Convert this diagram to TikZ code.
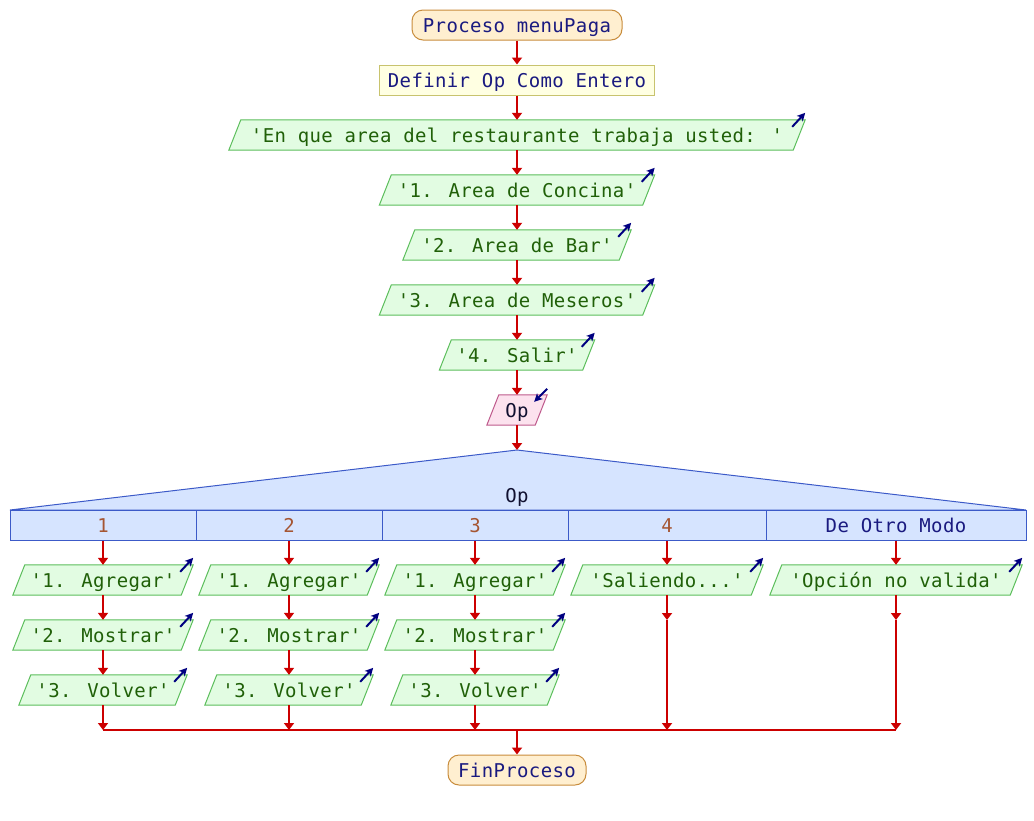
\documentclass[tikz,border=0pt]{standalone}
\usepackage{fontspec}
\usetikzlibrary{arrows.meta,backgrounds}
\newfontfamily\pf[LetterSpace=1.9]{DejaVu Sans Mono}
\definecolor{termfill}{RGB}{255,239,208}
\definecolor{termdraw}{RGB}{200,140,60}
\definecolor{deffill}{RGB}{255,255,226}
\definecolor{defdraw}{RGB}{200,195,110}
\definecolor{outfill}{RGB}{226,252,226}
\definecolor{outdraw}{RGB}{92,190,92}
\definecolor{infill}{RGB}{252,226,238}
\definecolor{indraw}{RGB}{190,90,140}
\definecolor{swfill}{RGB}{214,228,255}
\definecolor{swdraw}{RGB}{60,90,200}
\definecolor{flowred}{RGB}{204,0,0}
\definecolor{iconblue}{RGB}{0,0,128}
\definecolor{txtnavy}{RGB}{26,26,128}
\definecolor{txtgreen}{RGB}{32,96,8}
\definecolor{txtbrown}{RGB}{165,85,50}
\definecolor{txtdark}{RGB}{16,16,48}
\tikzset{
  base/.style={font=\pf\fontsize{19}{21}\selectfont, inner sep=0pt, minimum height=30pt, text height=15pt, text depth=1pt, anchor=center},
  term/.style={base, draw=termdraw, fill=termfill, rounded corners=11pt, text=txtnavy, line width=1pt},
  defbox/.style={base, draw=defdraw, fill=deffill, text=txtnavy, line width=1pt},
  io/.style={base, text=txtgreen},
  inp/.style={base, text=txtdark},
  outsh/.style={draw=outdraw, fill=outfill, line width=1pt},
  insh/.style={draw=indraw, fill=infill, line width=1pt},
  icon/.style={draw=iconblue, line width=2pt, -{Stealth[length=8pt,width=8pt,inset=2pt]}},
  cell/.style={base, draw=swdraw, fill=swfill, line width=1pt, minimum height=30pt, text=txtbrown},
  flow/.style={draw=flowred, line width=2pt, -{Triangle[length=7pt,width=10pt]}},
  fline/.style={draw=flowred, line width=2pt},
}
\newcommand\outp[5]{%
  \node[io,minimum width=#4pt] (#1) at (#2,#3) {#5};
  \begin{pgfonlayer}{background}
  \draw[outsh] ([xshift=6pt]#1.north west) -- ([xshift=6pt]#1.north east) -- ([xshift=-6pt]#1.south east) -- ([xshift=-6pt]#1.south west) -- cycle;
  \end{pgfonlayer}
  \draw[icon] ([xshift=-7pt,yshift=-7pt]#1.north east) -- ([xshift=6pt,yshift=7pt]#1.north east);
}
\begin{document}
\begin{tikzpicture}[x=1pt,y=-1pt]
\useasboundingbox (0,0) rectangle (1034,820);
% terminals and definition
\node[term, minimum width=210pt] (start) at (517,25) {Proceso menuPaga};
\node[defbox, minimum width=275pt] (def) at (517,80) {Definir Op Como Entero};
\outp{o1}{517}{135}{564}{'En que area del restaurante trabaja usted: '}
\outp{o2}{517}{190}{263}{'1. Area de Concina'}
\outp{o3}{517}{245}{216}{'2. Area de Bar'}
\outp{o4}{517}{300}{263}{'3. Area de Meseros'}
\outp{o5}{517}{355}{143}{'4. Salir'}
% input
\node[inp, minimum width=48pt] (op) at (517,410) {Op};
\begin{pgfonlayer}{background}
\draw[insh] ([xshift=6pt]op.north west) -- ([xshift=6pt]op.north east) -- ([xshift=-6pt]op.south east) -- ([xshift=-6pt]op.south west) -- cycle;
\end{pgfonlayer}
\draw[icon] ([xshift=6pt,yshift=6pt]op.north east) -- ([xshift=-7pt,yshift=-7pt]op.north east);
% switch
\coordinate (swtop) at (517,450);
\coordinate (swl) at (10,510);
\coordinate (swr) at (1026,510);
\draw[draw=swdraw, fill=swfill, line width=1pt] (swl) -- (swtop) -- (swr) -- cycle;
\node[base, text=txtdark] (swlab) at (517,495) {Op};
\node[cell, minimum width=186pt] (c1) at (103,525) {1};
\node[cell, minimum width=186pt] (c2) at (289,525) {2};
\node[cell, minimum width=186pt] (c3) at (475,525) {3};
\node[cell, minimum width=198pt] (c4) at (667,525) {4};
\node[cell, minimum width=260pt, text=txtnavy] (c5) at (896,525) {De Otro Modo};
% column boxes
\outp{a1}{103}{580}{168}{'1. Agregar'}
\outp{b1}{103}{635}{168}{'2. Mostrar'}
\outp{d1}{103}{690}{156}{'3. Volver'}
\outp{a2}{289}{580}{168}{'1. Agregar'}
\outp{b2}{289}{635}{168}{'2. Mostrar'}
\outp{d2}{289}{690}{156}{'3. Volver'}
\outp{a3}{475}{580}{168}{'1. Agregar'}
\outp{b3}{475}{635}{168}{'2. Mostrar'}
\outp{d3}{475}{690}{156}{'3. Volver'}
\outp{a4}{667}{580}{180}{'Saliendo...'}
\outp{a5}{896}{580}{240}{'Opción no valida'}
% end
\node[term, minimum width=138pt] (fin) at (517,770) {FinProceso};
% connectors
\draw[flow] (start) -- (def);
\draw[flow] (def) -- (o1);
\draw[flow] (o1) -- (o2);
\draw[flow] (o2) -- (o3);
\draw[flow] (o3) -- (o4);
\draw[flow] (o4) -- (o5);
\draw[flow] (o5) -- (op);
\draw[flow] (op) -- (swtop);
\foreach \i in {1,2,3}{
  \draw[flow] (c\i.south) -- (a\i.north);
  \draw[flow] (a\i.south) -- (b\i.north);
  \draw[flow] (b\i.south) -- (d\i.north);
  \coordinate (j\i) at (c\i.south |- 0,730);
  \draw[flow] (d\i.south) -- (j\i);
}
\draw[flow] (c4.south) -- (a4.north);
\draw[flow] (c5.south) -- (a5.north);
\coordinate (m4) at (a4.south |- 0,620);
\coordinate (m5) at (a5.south |- 0,620);
\coordinate (j4) at (a4.south |- 0,730);
\coordinate (j5) at (a5.south |- 0,730);
\draw[flow] (a4.south) -- (m4);
\draw[flow] (m4) -- (j4);
\draw[flow] (a5.south) -- (m5);
\draw[flow] (m5) -- (j5);
\draw[fline] (j1) -- (j5);
\coordinate (jm) at (517,730);
\draw[flow] (jm) -- (fin);
\end{tikzpicture}
\end{document}
